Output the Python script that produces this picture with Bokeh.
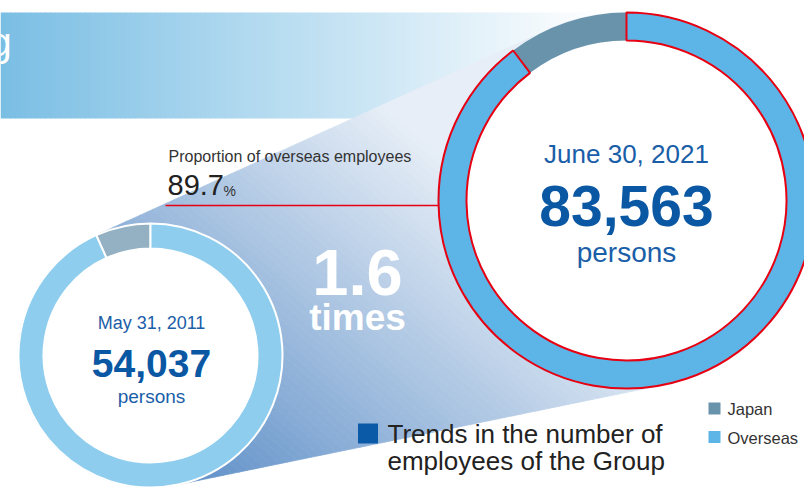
import math
from bokeh.plotting import figure
from bokeh.models import Range1d
from bokeh.core.properties import value
from bokeh.embed import file_html
from bokeh.resources import INLINE

# ---------------- data ----------------
dates = ["May 31, 2011", "June 30, 2021"]
totals = [54037, 83563]
japan = [3650, 8607]
overseas = [50387, 74956]
categories = ["Japan", "Overseas"]
overseas_share = "89.7"
growth = "1.6"
title_lines = ["Trends in the number of", "employees of the Group"]

# ---------------- styles ----------------
FONT = value("Liberation Sans")
JP_OLD, OS_OLD = "#93b1c3", "#8ecdee"
JP_NEW, OS_NEW = "#6893aa", "#5db4e6"
RED = "#e60012"
BLUE_TXT = "#1a5ea8"
BLUE_NUM = "#0a57a4"

W, H = 804, 489


def Y(y):  # page y -> data y
    return H - y


p = figure(width=W, height=H, x_range=Range1d(0, W), y_range=Range1d(0, H),
           output_backend="svg", toolbar_location=None,
           x_axis_location=None, y_axis_location=None, min_border=0)
p.grid.visible = False
p.outline_line_color = None
p.background_fill_color = "white"
p.border_fill_color = "white"

# ---- top band with horizontal gradient ----
c0 = (122, 190, 228)
n = 120
x_end = 600
lefts, rights, cols = [], [], []
for i in range(n):
    l = x_end * i / n
    r = x_end * (i + 1) / n + 0.6
    t = (i + 0.5) / n
    c = tuple(int(round(c0[k] + (255 - c0[k]) * t)) for k in range(3))
    lefts.append(l); rights.append(r); cols.append("#%02x%02x%02x" % c)
p.quad(left=lefts, right=rights, top=Y(12), bottom=Y(118), fill_color=cols, line_color=None)

# ---- beam between the two circles (convex hull, gradient strips) ----
C1, R1 = (150, 355), 132
C2, R2 = (626, 200), 188
pts = []
for (cx, cy), r in ((C1, R1), (C2, R2)):
    for k in range(360):
        a = 2 * math.pi * k / 360
        pts.append((cx + r * math.cos(a), cy + r * math.sin(a)))
pts = sorted(set(pts))


def cross(o, a, b):
    return (a[0] - o[0]) * (b[1] - o[1]) - (a[1] - o[1]) * (b[0] - o[0])


lower, upper = [], []
for pt in pts:
    while len(lower) >= 2 and cross(lower[-2], lower[-1], pt) <= 0:
        lower.pop()
    lower.append(pt)
for pt in reversed(pts):
    while len(upper) >= 2 and cross(upper[-2], upper[-1], pt) <= 0:
        upper.pop()
    upper.append(pt)
hull = lower[:-1] + upper[:-1]


def clip(poly, f):
    out = []
    m = len(poly)
    for i in range(m):
        P, Q = poly[i], poly[(i + 1) % m]
        fp, fq = f(P), f(Q)
        if fp >= 0:
            out.append(P)
        if (fp >= 0) != (fq >= 0):
            s = fp / (fp - fq)
            out.append((P[0] + s * (Q[0] - P[0]), P[1] + s * (Q[1] - P[1])))
    return out


def tval(P):
    return 0.00143 * P[0] - 0.00167 * P[1] + 0.617


d0, d1 = (84, 136, 196), (232, 239, 247)
N = 70
bxs, bys, bcols = [], [], []
for k in range(N):
    lo, hi = k / N, (k + 1) / N
    poly = hull
    if k > 0:
        poly = clip(poly, lambda P, lo=lo: tval(P) - lo)
    if k < N - 1 and poly:
        poly = clip(poly, lambda P, hi=hi: hi - tval(P))
    if len(poly) < 3:
        continue
    tm = (k + 0.5) / N
    c = tuple(int(round(d0[j] + (d1[j] - d0[j]) * tm)) for j in range(3))
    bxs.append([q[0] for q in poly]); bys.append([Y(q[1]) for q in poly])
    bcols.append("#%02x%02x%02x" % c)
p.patches(bxs, bys, fill_color=bcols, line_color=bcols, line_width=0.8)

# ---- red connector line ----
p.segment(x0=[165], y0=[Y(205)], x1=[450], y1=[Y(205)], line_color=RED, line_width=1.3)


# ---- rings ----
def ring(center, r_in, r_out, jp, os_, cj, co, line, lw):
    total = jp + os_
    a0 = math.pi / 2
    a1 = a0 + 2 * math.pi * jp / total
    a2 = a0 + 2 * math.pi
    cx, cy = center
    p.circle(x=[cx], y=[Y(cy)], radius=r_in, fill_color="white", line_color=None)
    p.annular_wedge(x=[cx], y=[Y(cy)], inner_radius=r_in, outer_radius=r_out,
                    start_angle=[a0], end_angle=[a1], fill_color=cj,
                    line_color="white" if line == "white" else None, line_width=lw)
    p.annular_wedge(x=[cx], y=[Y(cy)], inner_radius=r_in, outer_radius=r_out,
                    start_angle=[a1], end_angle=[a2], fill_color=co,
                    line_color=line, line_width=lw)


ring(C1, 107, R1, japan[0], overseas[0], JP_OLD, OS_OLD, "white", 2)
ring(C2, 160, R2, japan[1], overseas[1], JP_NEW, OS_NEW, RED, 2)


# ---- texts ----
def txt(x, y, s, size, color, align="left", style="normal"):
    # y is the wanted baseline (page px); compensate renderer baseline offset
    p.text(x=[x], y=[Y(y - 0.35 * size)], text=[s], text_font=FONT,
           text_font_size=value(f"{size}px"),
           text_color=color, text_align=align, text_baseline="alphabetic",
           text_font_style=style)


txt(-11, 55, "g", 40, "white")
txt(168, 162, "Proportion of overseas employees", 16, "#333333")
txt(167, 195, overseas_share, 29, "#222222")
txt(223, 195, "%", 14, "#333333")

txt(626, 163, dates[1], 26, BLUE_TXT, "center")
txt(626, 225, f"{totals[1]:,}", 57, BLUE_NUM, "center", "bold")
txt(626, 262, "persons", 28, BLUE_TXT, "center")

txt(151, 329, dates[0], 18, BLUE_TXT, "center")
txt(151, 377, f"{totals[0]:,}", 39, BLUE_NUM, "center", "bold")
txt(151, 403, "persons", 19, BLUE_TXT, "center")

txt(357, 295, growth, 65, "white", "center", "bold")
txt(357, 330, "times", 37, "white", "center", "bold")

# title with blue square
p.rect(x=[367.5], y=[Y(433)], width=20, height=20, fill_color="#0a5aa8", line_color=None)
txt(387, 443, title_lines[0], 26, "#222222")
txt(387, 470, title_lines[1], 26, "#222222")

# legend
p.rect(x=[714, 714], y=[Y(408), Y(436.5)], width=12, height=12,
       fill_color=[JP_NEW, OS_NEW], line_color=None)
txt(727, 414, categories[0], 16.5, "#333333")
txt(727, 443, categories[1], 16.5, "#333333")

open("out.html", "w").write(file_html(p, INLINE))
